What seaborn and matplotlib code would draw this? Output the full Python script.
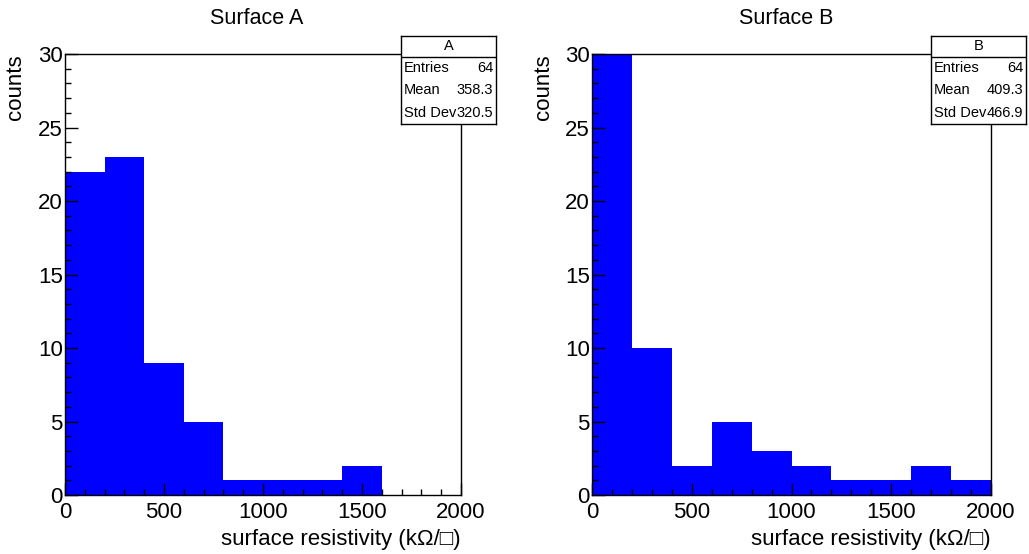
import matplotlib.pyplot as plt
import seaborn as sns
from matplotlib.ticker import MultipleLocator

# bin edges and counts per bin
bin_edges = [0, 200, 400, 600, 800, 1000, 1200, 1400, 1600, 1800, 2000]
bin_centers = [100, 300, 500, 700, 900, 1100, 1300, 1500, 1700, 1900]
counts_a = [22, 23, 9, 5, 1, 1, 1, 2, 0, 0]
counts_b = [30, 10, 2, 5, 3, 2, 1, 1, 2, 1]

titles = ['Surface A', 'Surface B']
box_names = ['A', 'B']
stat_labels = ['Entries', 'Mean', 'Std Dev']
stats_a = ['64', '358.3', '320.5']
stats_b = ['64', '409.3', '466.9']

sns.set_style('ticks')
plt.rcParams['font.family'] = ['Liberation Sans', 'DejaVu Sans']
for k in ['text.color', 'axes.labelcolor', 'xtick.color', 'ytick.color']:
    plt.rcParams[k] = 'black'

W, H = 1029, 554
fig = plt.figure(figsize=(W / 100, H / 100), dpi=100)

# axes positions in pixels (left, right)
ax_px = [(65, 461), (592, 991)]
ax_top, ax_bot = 54, 495
title_x = [257, 786.5]

for i, (counts, stats) in enumerate([(counts_a, stats_a), (counts_b, stats_b)]):
    l, r = ax_px[i]
    ax = fig.add_axes([l / W, 1 - ax_bot / H, (r - l) / W, (ax_bot - ax_top) / H])
    sns.histplot(x=bin_centers, weights=counts, bins=bin_edges, ax=ax,
                 color='blue', edgecolor='blue', linewidth=0, alpha=1)
    ax.set_axisbelow(False)
    ax.set_xlim(0, 2000)
    ax.set_ylim(0, 30)
    ax.xaxis.set_major_locator(MultipleLocator(500))
    ax.xaxis.set_minor_locator(MultipleLocator(100))
    ax.yaxis.set_major_locator(MultipleLocator(5))
    ax.yaxis.set_minor_locator(MultipleLocator(1))
    ax.tick_params(which='both', direction='in', top=False, right=False,
                   width=1, color='black')
    ax.tick_params(which='major', length=9, labelsize=16)
    ax.tick_params(which='minor', length=4.5)
    ax.tick_params(axis='y', pad=1.5)
    ax.tick_params(axis='x', pad=5)
    for s in ax.spines.values():
        s.set_visible(True)
        s.set_color('black')
        s.set_linewidth(1)

    ax.set_xlabel('surface resistivity (k\u03a9/\u25a1)', fontsize=16, ha='right', va='center')
    ax.xaxis.set_label_coords(1.0, (ax_bot - 540) / (ax_bot - ax_top))
    ax.set_ylabel('counts', fontsize=16, ha='right', va='center')
    ax.yaxis.set_label_coords((16 - 65) / (r - l), 1.0)

    fig.text(title_x[i] / W, 1 - 19 / H, titles[i], fontsize=15.5,
             ha='center', va='center')

    # stat box
    bl, br, bt, bb = r - 60, r + 35, 36, 124
    bax = fig.add_axes([bl / W, 1 - bb / H, (br - bl) / W, (bb - bt) / H])
    bax.set_xlim(0, 1)
    bax.set_ylim(0, 1)
    bax.set_xticks([])
    bax.set_yticks([])
    bax.set_facecolor('white')
    for s in bax.spines.values():
        s.set_visible(True)
        s.set_color('black')
        s.set_linewidth(1)
    hy = (bb - 57) / (bb - bt)
    bax.axhline(hy, color='black', linewidth=1)
    bax.text(0.5, (1 + hy) / 2, box_names[i], fontsize=10.5, ha='center', va='center')
    row_h = hy / 3
    for j, (lab, val) in enumerate(zip(stat_labels, stats)):
        yy = hy - row_h * (j + 0.5)
        bax.text(0.03, yy, lab, fontsize=10.5, ha='left', va='center')
        bax.text(0.97, yy, val, fontsize=10.5, ha='right', va='center')

fig.savefig('out.png', dpi=100)
